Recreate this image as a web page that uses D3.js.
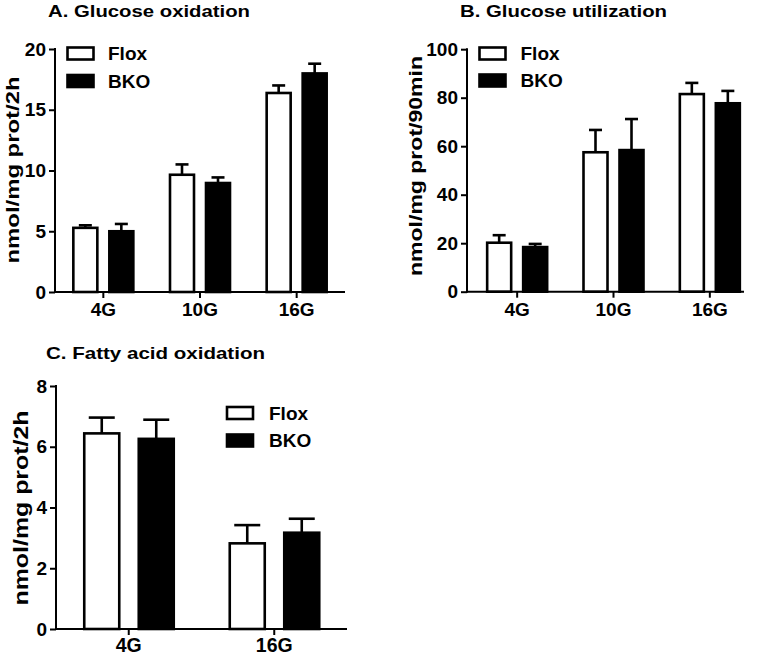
<!DOCTYPE html>
<html>
<head>
<meta charset="utf-8">
<script src="https://cdn.jsdelivr.net/npm/d3@7/dist/d3.min.js"></script>
<style>
  html, body { margin: 0; padding: 0; background: #fff; }
  svg { display: block; }
  text { font-family: "Liberation Sans", Arial, sans-serif; font-weight: bold; fill: #000; }
</style>
</head>
<body>
<svg id="chart" width="761" height="657"></svg>
<script>
// ---- Data ----
const seriesNames = ["Flox", "BKO"];

const titleA = "A. Glucose oxidation";
const yLabelA = "nmol/mg prot/2h";
const categoriesA = ["4G", "10G", "16G"];
const floxA = [5.28, 9.65, 16.38];
const floxErrA = [0.21, 0.85, 0.62];
const bkoA = [5.0, 8.97, 17.99];
const bkoErrA = [0.6, 0.46, 0.8];
const ticksA = [0, 5, 10, 15, 20];

const titleB = "B. Glucose utilization";
const yLabelB = "nmol/mg prot/90min";
const categoriesB = ["4G", "10G", "16G"];
const floxB = [20.2, 57.5, 81.5];
const floxErrB = [3.1, 9.2, 4.6];
const bkoB = [18.4, 58.4, 77.7];
const bkoErrB = [1.3, 12.8, 5.1];
const ticksB = [0, 20, 40, 60, 80, 100];

const titleC = "C. Fatty acid oxidation";
const yLabelC = "nmol/mg prot/2h";
const categoriesC = ["4G", "16G"];
const floxC = [6.44, 2.82];
const floxErrC = [0.52, 0.6];
const bkoC = [6.26, 3.17];
const bkoErrC = [0.63, 0.46];
const ticksC = [0, 2, 4, 6, 8];

// ---- Drawing ----
const svg = d3.select("#chart");
const FONT = '"Liberation Sans", Arial, sans-serif';

function drawPanel(p) {
  const g = svg.append("g");
  const y = d3.scaleLinear().domain([0, p.yMax]).range([p.y0, p.y1]);
  const x = d3.scaleBand().domain(p.categories).range([p.bandStart, p.bandEnd]).padding(0);
  const cx = d => x(d) + x.bandwidth() / 2;
  const sx = d3.scaleOrdinal().domain(seriesNames).range(p.offsets);

  const rows = [];
  p.categories.forEach((c, i) => {
    rows.push({ cat: c, s: "Flox", v: p.flox[i], e: p.floxErr[i] });
    rows.push({ cat: c, s: "BKO", v: p.bko[i], e: p.bkoErr[i] });
  });

  // error bars (upward only)
  const eb = g.append("g");
  eb.selectAll("line.v").data(rows).enter().append("line")
    .attr("x1", d => cx(d.cat) + sx(d.s)).attr("x2", d => cx(d.cat) + sx(d.s))
    .attr("y1", d => y(d.v)).attr("y2", d => y(d.v + d.e))
    .attr("stroke", "#000").attr("stroke-width", 2.6);
  eb.selectAll("line.c").data(rows).enter().append("line")
    .attr("x1", d => cx(d.cat) + sx(d.s) - p.capW / 2).attr("x2", d => cx(d.cat) + sx(d.s) + p.capW / 2)
    .attr("y1", d => y(d.v + d.e)).attr("y2", d => y(d.v + d.e))
    .attr("stroke", "#000").attr("stroke-width", 2.6);

  // bars
  g.append("g").selectAll("rect").data(rows).enter().append("rect")
    .attr("x", d => cx(d.cat) + sx(d.s) - p.barW / 2)
    .attr("width", p.barW)
    .attr("y", d => y(d.v))
    .attr("height", d => y(0) - y(d.v))
    .attr("fill", d => d.s === "Flox" ? "#fff" : "#000")
    .attr("stroke", "#000").attr("stroke-width", 2.6);

  // y axis
  const ya = g.append("g").attr("transform", `translate(${p.axisX},0)`)
    .call(d3.axisLeft(y).tickValues(p.ticks).tickSize(6).tickPadding(3).tickSizeOuter(0));
  ya.select(".domain").remove();
  ya.selectAll(".tick line").attr("stroke-width", 2);
  ya.selectAll(".tick text").style("font-size", "19px").style("font-family", FONT).style("font-weight", "bold");
  g.append("line").attr("x1", p.axisX).attr("x2", p.axisX).attr("y1", y(p.yMax) - 1).attr("y2", y(0) + 1)
    .attr("stroke", "#000").attr("stroke-width", 2);

  // x axis
  const xa = g.append("g").attr("transform", `translate(0,${y(0)})`)
    .call(d3.axisBottom(x).tickSize(6).tickPadding(p.xPad).tickSizeOuter(0));
  xa.select(".domain").remove();
  xa.selectAll(".tick line").attr("stroke-width", 2);
  xa.selectAll(".tick text").style("font-size", p.xFont + "px").style("font-family", FONT).style("font-weight", "bold");
  g.append("line").attr("x1", p.axisX - 1).attr("x2", p.axisEnd).attr("y1", y(0)).attr("y2", y(0))
    .attr("stroke", "#000").attr("stroke-width", 2);

  // title
  g.append("text").attr("x", p.titleX).attr("y", p.titleY)
    .attr("textLength", p.titleLen).attr("lengthAdjust", "spacingAndGlyphs")
    .style("font-size", "16.5px").text(p.title);

  // y label
  g.append("text")
    .attr("transform", `translate(${p.ylX},${p.ylY}) rotate(-90)`)
    .attr("text-anchor", "middle")
    .attr("textLength", p.ylLen).attr("lengthAdjust", "spacingAndGlyphs")
    .style("font-size", p.ylFont + "px").text(p.yLabel);

  // legend
  const lg = g.append("g");
  seriesNames.forEach((s, i) => {
    lg.append("rect").attr("x", p.legX).attr("y", p.legY + i * p.legStep)
      .attr("width", 26).attr("height", 12)
      .attr("fill", s === "Flox" ? "#fff" : "#000").attr("stroke", "#000").attr("stroke-width", 2.6);
    lg.append("text").attr("x", p.legTX).attr("y", p.legY + i * p.legStep + 12.5)
      .style("font-size", "19px").text(s);
  });
}

drawPanel({
  title: titleA, yLabel: yLabelA, categories: categoriesA,
  flox: floxA, floxErr: floxErrA, bko: bkoA, bkoErr: bkoErrA, ticks: ticksA, yMax: 20,
  y0: 292, y1: 49, axisX: 55, axisEnd: 345, bandStart: 55, bandEnd: 345,
  offsets: [-18, 18], barW: 24, capW: 13, xPad: 5, xFont: 19,
  titleX: 48, titleY: 17, titleLen: 202,
  ylX: 18.5, ylY: 170, ylLen: 187, ylFont: 19,
  legX: 67.5, legY: 47.5, legStep: 27.5, legTX: 108
});

drawPanel({
  title: titleB, yLabel: yLabelB, categories: categoriesB,
  flox: floxB, floxErr: floxErrB, bko: bkoB, bkoErr: bkoErrB, ticks: ticksB, yMax: 100,
  y0: 291.7, y1: 49.2, axisX: 467, axisEnd: 744, bandStart: 469, bandEnd: 758,
  offsets: [-18, 18], barW: 24, capW: 13, xPad: 5, xFont: 19,
  titleX: 460, titleY: 17, titleLen: 207,
  ylX: 422, ylY: 166, ylLen: 220, ylFont: 19,
  legX: 479.5, legY: 47.5, legStep: 27, legTX: 520.5
});

drawPanel({
  title: titleC, yLabel: yLabelC, categories: categoriesC,
  flox: floxC, floxErr: floxErrC, bko: bkoC, bkoErr: bkoErrC, ticks: ticksC, yMax: 8,
  y0: 629, y1: 386, axisX: 56, axisEnd: 347, bandStart: 56, bandEnd: 347,
  offsets: [-27, 27.5], barW: 35, capW: 26, xPad: 3, xFont: 19.5,
  titleX: 46, titleY: 359, titleLen: 219,
  ylX: 28, ylY: 508, ylLen: 195, ylFont: 20.5,
  legX: 227, legY: 407, legStep: 27.5, legTX: 269
});
</script>
</body>
</html>
